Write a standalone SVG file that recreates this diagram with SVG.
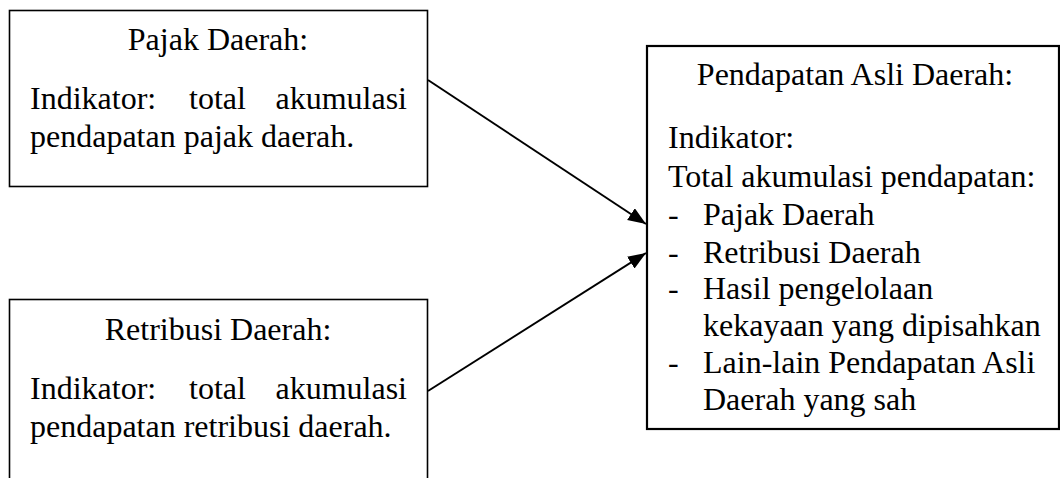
<svg xmlns="http://www.w3.org/2000/svg" width="1060" height="478" viewBox="0 0 1060 478">
<style>
text{font-family:"Liberation Serif","Times New Roman",serif;font-size:32px;fill:#000}
.box{fill:#fff;stroke:#000;stroke-width:1.6}
.box3{fill:#fff;stroke:#000;stroke-width:2.2}
.mid{text-anchor:middle}
.end{text-anchor:end}
.conn{stroke:#000;stroke-width:2;fill:none;marker-end:url(#arr)}
</style>
<defs>
<marker id="arr" markerUnits="userSpaceOnUse" markerWidth="20" markerHeight="16" refX="18" refY="7" orient="auto">
<path d="M0,0 L18,7 L0,14 Z" fill="#000"/>
</marker>
</defs>
<g id="node-pajak">
<rect class="box" x="9.5" y="10.5" width="418" height="176"/>
<text class="mid" x="218" y="50">Pajak Daerah:</text>
<text x="30" y="109">Indikator:</text>
<text x="189" y="109">total</text>
<text class="end" x="407" y="109">akumulasi</text>
<text x="30" y="147">pendapatan pajak daerah.</text>
</g>
<g id="node-retribusi">
<rect class="box" x="9.5" y="299.5" width="418" height="200"/>
<text class="mid" x="218" y="340">Retribusi Daerah:</text>
<text x="30" y="399">Indikator:</text>
<text x="189" y="399">total</text>
<text class="end" x="407" y="399">akumulasi</text>
<text x="30" y="437">pendapatan retribusi daerah.</text>
</g>
<g id="node-pad">
<rect class="box3" x="647" y="46" width="412" height="383"/>
<text class="mid" x="855" y="85">Pendapatan Asli Daerah:</text>
<text x="668" y="148">Indikator:</text>
<text x="668" y="187">Total akumulasi pendapatan:</text>
<text x="668" y="225">-</text><text x="703" y="225">Pajak Daerah</text>
<text x="668" y="263">-</text><text x="703" y="263">Retribusi Daerah</text>
<text x="668" y="299">-</text><text x="703" y="299">Hasil pengelolaan</text>
<text x="703" y="336">kekayaan yang dipisahkan</text>
<text x="668" y="373">-</text><text x="703" y="373">Lain-lain Pendapatan Asli</text>
<text x="703" y="410">Daerah yang sah</text>
</g>
<g id="connectors">
<line class="conn" x1="428" y1="80" x2="646" y2="224"/>
<line class="conn" x1="428" y1="391" x2="646" y2="253"/>
</g>
</svg>
